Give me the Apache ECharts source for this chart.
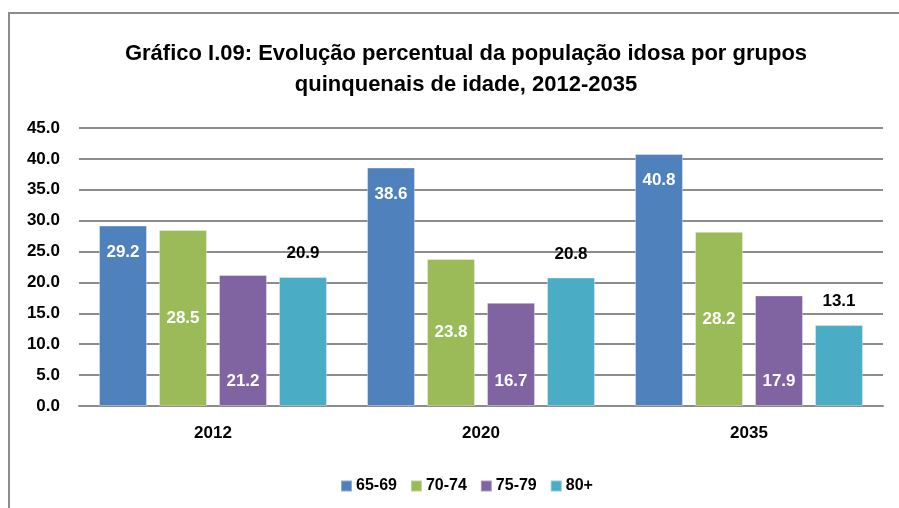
<!DOCTYPE html>
<html>
<head>
<meta charset="utf-8">
<script src="https://cdn.jsdelivr.net/npm/echarts@6/dist/echarts.min.js"></script>
<style>
  html, body { margin: 0; padding: 0; background: #fff; }
  #chart { width: 899px; height: 508px; }
</style>
</head>
<body>
<div id="chart"></div>
<script>
// categorias e séries
const anos = ['2012', '2020', '2035'];
const grupos = ['65-69', '70-74', '75-79', '80+'];
const s6569 = [29.2, 38.6, 40.8];
const s7074 = [28.5, 23.8, 28.2];
const s7579 = [21.2, 16.7, 17.9];
const s80 = [20.9, 20.8, 13.1];

const cores = ['#4F81BD', '#9BBB59', '#8064A2', '#4BACC6'];
const fonte = "'Liberation Sans', Arial, sans-serif";

const chart = echarts.init(document.getElementById('chart'));

// posição do rótulo de cada série (como no Excel)
const rotulos = [
  { position: 'insideTop', distance: 18, color: '#fff' },
  { position: 'inside', color: '#fff' },
  { position: 'insideBottom', distance: 16, color: '#fff' },
  { position: 'top', distance: 15, color: '#000' }
];

const valores = [s6569, s7074, s7579, s80];

const option = {
  backgroundColor: '#fff',
  animation: false,
  color: cores,
  title: {
    text: 'Gráfico I.09: Evolução percentual da população idosa por grupos\nquinquenais de idade, 2012-2035',
    left: 461,
    textAlign: 'center',
    top: 33,
    textStyle: {
      fontFamily: fonte,
      fontWeight: 'bold',
      fontSize: 22,
      lineHeight: 31,
      color: '#000'
    }
  },
  graphic: [
    {
      type: 'polyline',
      shape: { points: [[9, 510], [9, 13], [900, 13]] },
      style: { stroke: '#8c8c8c', lineWidth: 2, fill: null },
      silent: true
    }
  ],
  legend: {
    data: grupos,
    left: 335,
    top: 473,
    itemWidth: 11,
    itemHeight: 11,
    itemGap: 13,
    icon: 'rect',
    textStyle: {
      fontFamily: fonte,
      fontWeight: 'bold',
      fontSize: 16,
      color: '#000',
      padding: [0, 0, 0, -1]
    }
  },
  grid: {
    left: 79,
    right: 16,
    top: 128,
    bottom: 102
  },
  xAxis: {
    type: 'category',
    data: anos,
    axisTick: { show: false },
    axisLine: { lineStyle: { color: '#8c8c8c', width: 2 } },
    axisLabel: {
      margin: 19,
      fontFamily: fonte,
      fontWeight: 'bold',
      fontSize: 17,
      color: '#000'
    }
  },
  yAxis: {
    type: 'value',
    min: 0,
    max: 45,
    interval: 5,
    axisLine: { show: false },
    axisTick: { show: false },
    splitLine: { lineStyle: { color: '#8c8c8c', width: 2 } },
    axisLabel: {
      margin: 19,
      formatter: v => v.toFixed(1),
      fontFamily: fonte,
      fontWeight: 'bold',
      fontSize: 17,
      color: '#000'
    }
  },
  series: grupos.map((g, i) => ({
    name: g,
    type: 'bar',
    data: valores[i],
    barWidth: 48,
    barGap: '25%',
    itemStyle: { borderColor: 'rgba(255,255,255,0.35)', borderWidth: 1 },
    label: Object.assign({
      show: true,
      formatter: p => p.value.toFixed(1),
      fontFamily: fonte,
      fontWeight: 'bold',
      fontSize: 17
    }, rotulos[i])
  }))
};

chart.setOption(option);
</script>
</body>
</html>
